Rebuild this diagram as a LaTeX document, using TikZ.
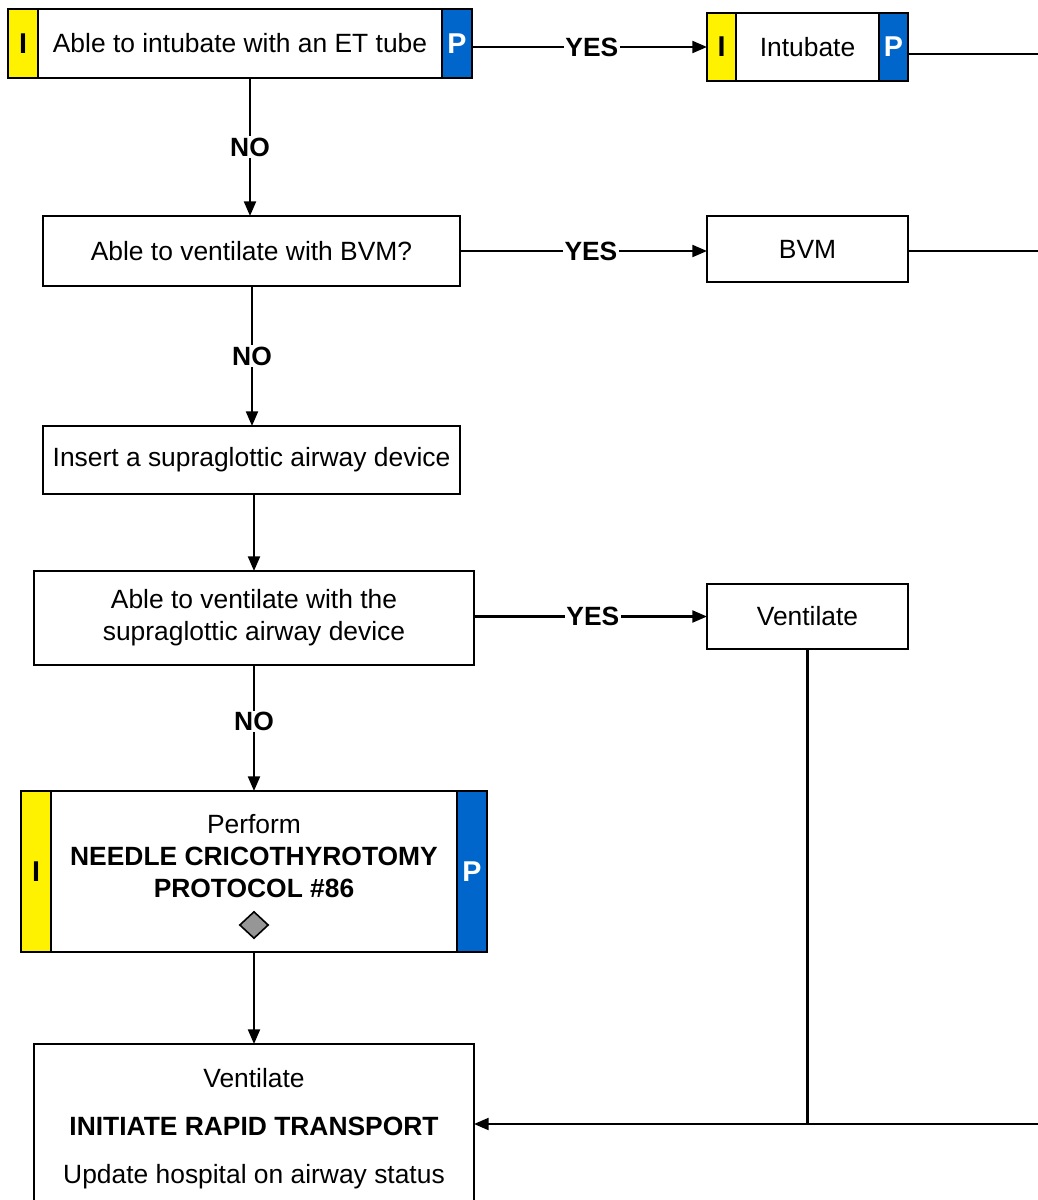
\documentclass[tikz,border=0pt]{standalone}
\usepackage{fontspec}
\setmainfont{Liberation Sans}
\usetikzlibrary{arrows.meta,shapes.geometric}
\definecolor{pblue}{RGB}{0,102,204}
\definecolor{dgray}{RGB}{150,150,150}
\begin{document}
\begin{tikzpicture}[x=0.75pt,y=-0.75pt,
  base/.style={draw, line width=1.6pt, inner sep=0pt, outer sep=0pt, align=center,
    font=\fontsize{19.8}{24}\selectfont},
  box/.style={base, fill=white},
  ibar/.style={base, fill=yellow, font=\bfseries\fontsize{21.5}{24}\selectfont},
  pbar/.style={base, fill=pblue, text=white, font=\bfseries\fontsize{21.5}{24}\selectfont},
  lbl/.style={fill=white, inner sep=1pt, font=\bfseries\fontsize{19.8}{24}\selectfont},
  arr/.style={line width=1.6pt, -{Triangle[length=11pt,width=9pt]}},
  ln/.style={line width=1.6pt}]
\useasboundingbox (0,0) rectangle (1038,1200);

% row 1
\node[box, minimum width=404*0.75pt, minimum height=69*0.75pt] (b1) at (240,43.5) {Able to intubate with an ET tube};
\node[ibar, minimum width=30*0.75pt, minimum height=69*0.75pt] (i1) at (23,43.5) {I};
\node[pbar, minimum width=30*0.75pt, minimum height=69*0.75pt] (p1) at (457,43.5) {P};

\node[box, minimum width=143*0.75pt, minimum height=68*0.75pt] (b1r) at (807.5,47) {Intubate};
\node[ibar, minimum width=29*0.75pt, minimum height=68*0.75pt] (i2) at (721.5,47) {I};
\node[pbar, minimum width=29*0.75pt, minimum height=68*0.75pt] (p2) at (893.5,47) {P};

% row 2
\node[box, minimum width=417*0.75pt, minimum height=70*0.75pt] (b2) at (251.5,251) {Able to ventilate with BVM?};
\node[box, minimum width=201*0.75pt, minimum height=66*0.75pt] (bvm) at (807.5,249) {BVM};

% row 3
\node[box, minimum width=417*0.75pt, minimum height=68*0.75pt] (b3) at (251.5,460) {Insert a supraglottic airway device};

% row 4
\node[box, minimum width=440*0.75pt, minimum height=94*0.75pt] (b4) at (254,618) {Able to ventilate with the\\supraglottic airway device};
\node[box, minimum width=201*0.75pt, minimum height=65*0.75pt] (vent) at (807.5,616.5) {Ventilate};

% row 5
\node[box, minimum width=406*0.75pt, minimum height=161*0.75pt] (b5) at (254,871.5)
  {Perform\\\textbf{NEEDLE CRICOTHYROTOMY}\\\textbf{PROTOCOL \#86}\\\phantom{X}};
\node[ibar, minimum width=30*0.75pt, minimum height=161*0.75pt] (i5) at (36,871.5) {I};
\node[pbar, minimum width=30*0.75pt, minimum height=161*0.75pt] (p5) at (472,871.5) {P};
\node[diamond, draw, line width=1.2pt, fill=dgray, inner sep=0pt, minimum width=29*0.75pt, minimum height=27*0.75pt] (dia) at (254,925) {};

% row 6
\node[box, minimum width=440*0.75pt, minimum height=170*0.75pt, font=\fontsize{19.8}{36}\selectfont] (b6) at (254,1129)
  {Ventilate\\\textbf{INITIATE RAPID TRANSPORT}\\Update hospital on airway status};

% right-edge coordinates
\coordinate (r1) at (1042,54);
\coordinate (r2) at (1042,251);
\coordinate (r3) at (1042,1124);

% connectors
\draw[arr] (p1.east |- i2.west) -- node[lbl, pos=0.51] {YES} (i2.west);
\draw[arr] (b1.south -| 250,0) -- node[lbl, pos=0.5] {NO} (b2.north -| 250,0);
\draw[arr] (b2.east) -- node[lbl, pos=0.53] {YES} (b2.east -| bvm.west);
\draw[arr] (b2.south -| 252,0) -- node[lbl] {NO} (b3.north -| 252,0);
\draw[arr] (b3.south -| b4.north) -- (b4.north);
\draw[arr] (b4.east |- vent.west) -- node[lbl, pos=0.51] {YES} (vent.west);
\draw[arr] (b4.south) -- node[lbl, pos=0.45] {NO} (b5.north);
\draw[arr] (b5.south) -- (b6.north);

\draw[ln] (p2.east |- r1) -- (r1);
\draw[ln] (bvm.east |- r2) -- (r2);
\draw[ln] (r1) -- (r3);
\draw[ln] (vent.south) -- (vent.south |- r3);
\draw[arr] (r3) -- (r3 -| b6.east);
\end{tikzpicture}
\end{document}
